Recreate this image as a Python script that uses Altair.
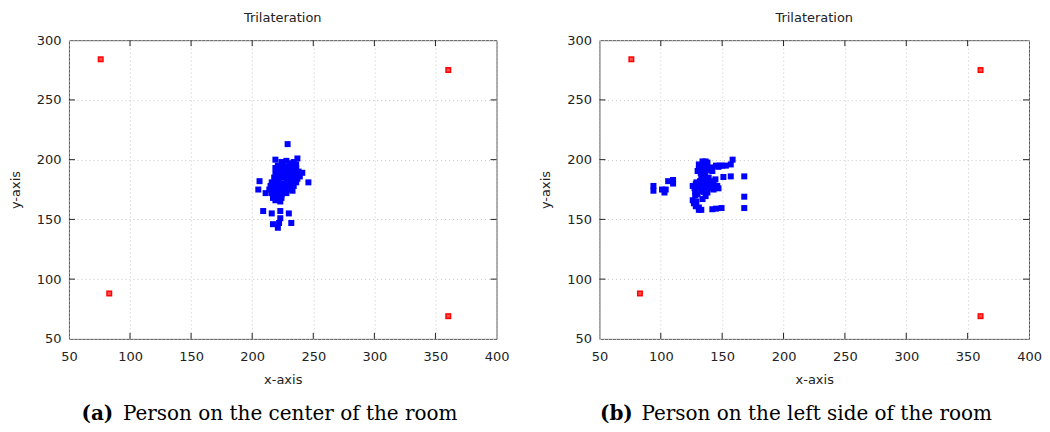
import altair as alt
import pandas as pd

# Anchor (access point) positions, identical in both panels
anchor_x = [76, 83, 360.5, 360.5]
anchor_y = [284, 88, 275, 69]

# (a) person in the center of the room
center_x = [229, 237, 219, 246, 206, 205, 211, 209, 216, 223, 230, 223, 217, 222, 221, 232, 241, 219, 236,
            224, 228, 231, 234, 236,
            221, 225, 229, 233,
            222, 226, 230, 234, 238,
            219, 223, 227, 231, 235, 239,
            218, 222, 226, 230, 234, 237,
            216, 220, 224, 228, 232, 236,
            215, 219, 223, 227, 231, 234,
            214, 218, 222, 226, 230, 233,
            216, 220, 224, 228,
            217, 221, 224, 219, 223]
center_y = [213, 201, 200, 181, 182, 175, 172, 157, 155, 157, 155, 151, 146, 147, 143, 147, 189, 193, 193,
            198, 199, 197, 198, 196,
            195, 195, 194, 195,
            192, 191, 192, 191, 190,
            188, 188, 187, 188, 187, 186,
            185, 184, 185, 184, 183, 184,
            181, 181, 180, 181, 180, 181,
            178, 177, 178, 177, 177, 178,
            175, 174, 175, 174, 175, 174,
            172, 171, 171, 172,
            168, 167, 168, 166, 165]

# (b) person on the left side of the room
left_x = [94, 94, 101, 103, 104, 106, 110, 110,
          128, 126, 127, 128.5, 131, 133, 142, 145, 149.5,
          168, 168, 168, 151, 157, 158.5, 157, 153, 150, 145, 141, 142,
          134, 136.5, 138, 131, 130, 132.5, 134, 136.5,
          126, 128.5, 127.5, 131, 134, 136.5, 139, 143, 144.5, 146, 147,
          138, 136.5, 134, 142, 130, 133,
          132, 135, 137, 131, 133, 136, 139, 129, 132, 135, 138, 141,
          128, 130, 133, 135, 129, 131, 147, 148, 140, 143, 139, 141]
left_y = [178, 174, 175, 172.5, 175, 182, 183, 180,
          170, 166, 163.5, 161, 158, 158, 158.5, 159, 159.5,
          159.5, 169, 186, 185.5, 186, 200, 196, 195, 195, 195, 193.5, 190.5,
          198.5, 198.5, 197.5, 196, 190.5, 189, 186.5, 183.5,
          178, 179.5, 176, 176.5, 178, 175.5, 181, 182, 183.5, 178, 176,
          172.5, 169.5, 167, 178, 180, 193,
          194, 195, 193, 192, 185, 188, 191, 181, 182, 180, 179, 177,
          173, 171, 174, 173, 165, 160, 194, 195, 176, 175, 185, 179]

x_ticks = [50, 100, 150, 200, 250, 300, 350, 400]
y_ticks = [50, 100, 150, 200, 250, 300]
inner_x_ticks = [100, 150, 200, 250, 300, 350]
inner_y_ticks = [100, 150, 200, 250]

chart_title = "Trilateration"
x_title = "x-axis"
y_title = "y-axis"
caption_labels = ["(a)", "(b)"]
caption_texts = ["Person on the center of the room", "Person on the left side of the room"]

H = 299
TICK = 6


def panel(bx, by, label, text, W, lab_x, text_x):
    xs = alt.Scale(domain=[50, 400], nice=False, zero=False)
    ys = alt.Scale(domain=[50, 300], nice=False, zero=False)
    xaxis = alt.Axis(values=x_ticks, title=x_title, grid=True, ticks=False, tickSize=0,
                     domain=False, labelPadding=12, titlePadding=10, labelFlush=False)
    yaxis = alt.Axis(values=y_ticks, title=y_title, grid=True, ticks=False, tickSize=0,
                     domain=False, labelPadding=8, titlePadding=14, labelFlush=False)

    def X(f):
        return alt.X(f, scale=xs, axis=xaxis)

    def Y(f):
        return alt.Y(f, scale=ys, axis=yaxis)

    pts = alt.Chart(pd.DataFrame({"x": bx, "y": by})).mark_point(
        shape="square", filled=True, color="#0000ff", size=36, opacity=1
    ).encode(x=X("x:Q"), y=Y("y:Q"))

    adf = pd.DataFrame({"x": anchor_x, "y": anchor_y})
    anc = alt.Chart(adf).mark_point(
        shape="square", filled=True, color="#ff0000", size=36, opacity=1
    ).encode(x=X("x:Q"), y=Y("y:Q"))
    anc2 = alt.Chart(adf).mark_point(
        shape="cross", filled=True, color="#ff5555", size=14, angle=45, opacity=1
    ).encode(x=X("x:Q"), y=Y("y:Q"))

    xt = pd.DataFrame({"v": inner_x_ticks})
    yt = pd.DataFrame({"v": inner_y_ticks})
    tb = alt.Chart(xt).mark_rule(color="#222", strokeWidth=1).encode(
        x=X("v:Q"), y=alt.value(H), y2=alt.value(H - TICK))
    tt = alt.Chart(xt).mark_rule(color="#222", strokeWidth=1).encode(
        x=X("v:Q"), y=alt.value(0), y2=alt.value(TICK))
    tl = alt.Chart(yt).mark_rule(color="#222", strokeWidth=1).encode(
        y=Y("v:Q"), x=alt.value(0), x2=alt.value(TICK))
    tr = alt.Chart(yt).mark_rule(color="#222", strokeWidth=1).encode(
        y=Y("v:Q"), x=alt.value(W), x2=alt.value(W - TICK))

    cap1 = alt.Chart(pd.DataFrame({"t": [label]})).mark_text(
        align="left", baseline="alphabetic", font="DejaVu Serif", fontSize=20,
        fontWeight="bold", color="#000"
    ).encode(text="t:N", x=alt.value(lab_x), y=alt.value(H + 81))
    cap2 = alt.Chart(pd.DataFrame({"t": [text]})).mark_text(
        align="left", baseline="alphabetic", font="DejaVu Serif", fontSize=20,
        fontWeight="normal", color="#000"
    ).encode(text="t:N", x=alt.value(text_x), y=alt.value(H + 81))

    return alt.layer(pts, anc, anc2, tb, tt, tl, tr, cap1, cap2).properties(
        width=W, height=H,
        title=alt.TitleParams(chart_title, font="DejaVu Sans", fontSize=13,
                              fontWeight="normal", color="#222", offset=9,
                              frame="group"),
    )


left = panel(center_x, center_y, caption_labels[0], caption_texts[0], 428, 12.5, 54)
right = panel(left_x, left_y, caption_labels[1], caption_texts[1], 430, 0.5, 42)

chart = alt.hconcat(left, right, spacing=29).properties(
    padding={"left": 0, "top": 3, "right": 0, "bottom": 0}
).configure_view(
    stroke="#555", strokeWidth=1
).configure_axis(
    labelFont="DejaVu Sans", labelFontSize=13, labelColor="#222",
    titleFont="DejaVu Sans", titleFontSize=13, titleColor="#222", titleFontWeight="normal",
    gridColor="#c8c8c8", gridDash=[1, 3], gridWidth=1,
)

chart.save("out.html", embed_options={"renderer": "svg", "actions": False})
